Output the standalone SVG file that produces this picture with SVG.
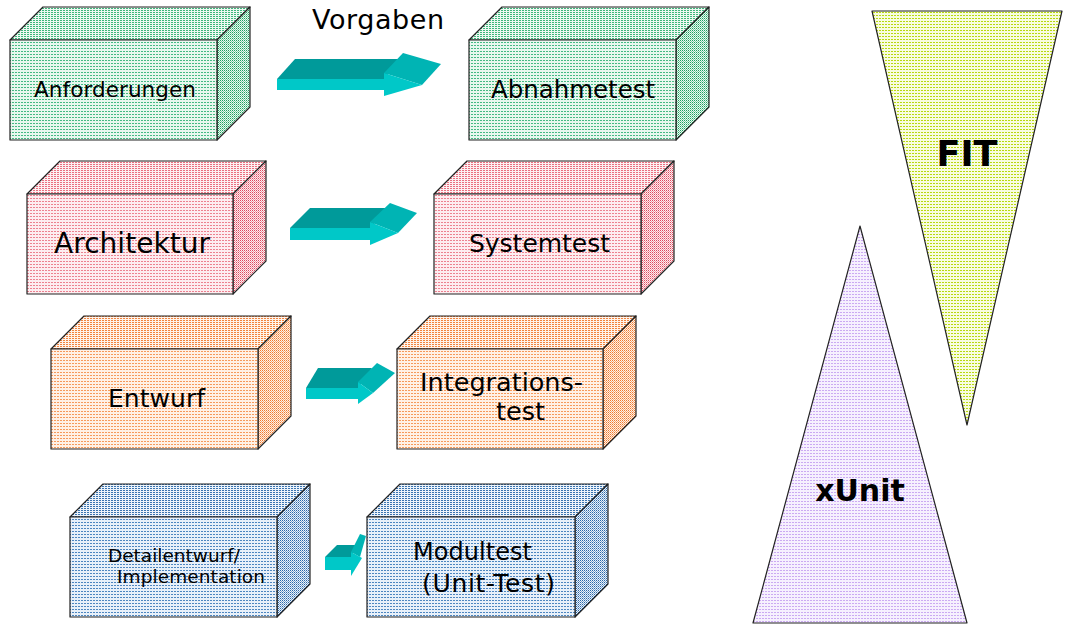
<svg xmlns="http://www.w3.org/2000/svg" width="1068" height="633" viewBox="0 0 1068 633">
<style>
.lbl{font-family:"DejaVu Sans","Verdana",sans-serif;fill:#000}
.bold{font-family:"DejaVu Sans","Verdana",sans-serif;font-weight:bold;fill:#000}
.edge{stroke:#222;stroke-width:1.2;stroke-linejoin:round}
.a1{fill:#00c8c8}.a2{fill:#009a9a}.a3{fill:#00b4b4}
</style>
<defs>
<pattern id="gF" width="3" height="3" patternUnits="userSpaceOnUse"><rect width="3" height="3" fill="#e8f7ee"/><rect width="2" height="1" fill="#45b983"/></pattern>
<pattern id="gT" width="3" height="2" patternUnits="userSpaceOnUse"><rect width="3" height="2" fill="#edf9f2"/><rect width="2" height="1" fill="#3fb67c"/></pattern>
<pattern id="gS" width="2" height="2" patternUnits="userSpaceOnUse"><rect width="2" height="2" fill="#eaf8f0"/><rect width="1" height="1" fill="#1f9e60"/><rect x="1" y="1" width="1" height="1" fill="#7ccfa4"/></pattern>
<pattern id="rF" width="3" height="3" patternUnits="userSpaceOnUse"><rect width="3" height="3" fill="#fdedf0"/><rect width="2" height="1" fill="#ec8290"/></pattern>
<pattern id="rT" width="3" height="2" patternUnits="userSpaceOnUse"><rect width="3" height="2" fill="#fdf0f2"/><rect width="2" height="1" fill="#ea7080"/></pattern>
<pattern id="rS" width="2" height="2" patternUnits="userSpaceOnUse"><rect width="2" height="2" fill="#fdeef0"/><rect width="1" height="1" fill="#dc4a5e"/><rect x="1" y="1" width="1" height="1" fill="#f09aa6"/></pattern>
<pattern id="oF" width="3" height="3" patternUnits="userSpaceOnUse"><rect width="3" height="3" fill="#fff1e6"/><rect width="2" height="1" fill="#f59a5c"/></pattern>
<pattern id="oT" width="3" height="2" patternUnits="userSpaceOnUse"><rect width="3" height="2" fill="#fff3ea"/><rect width="2" height="1" fill="#f2843e"/></pattern>
<pattern id="oS" width="2" height="2" patternUnits="userSpaceOnUse"><rect width="2" height="2" fill="#fff1e6"/><rect width="1" height="1" fill="#ee7a30"/><rect x="1" y="1" width="1" height="1" fill="#f6aa78"/></pattern>
<pattern id="bF" width="3" height="3" patternUnits="userSpaceOnUse"><rect width="3" height="3" fill="#e8f0f9"/><rect width="2" height="1" fill="#4d86c0"/></pattern>
<pattern id="bT" width="3" height="2" patternUnits="userSpaceOnUse"><rect width="3" height="2" fill="#edf3fa"/><rect width="2" height="1" fill="#3a74b0"/></pattern>
<pattern id="bS" width="2" height="2" patternUnits="userSpaceOnUse"><rect width="2" height="2" fill="#ecf2f9"/><rect width="1" height="1" fill="#2c68a8"/><rect x="1" y="1" width="1" height="1" fill="#7ea6d0"/></pattern>
<pattern id="yF" width="3" height="3" patternUnits="userSpaceOnUse"><rect width="3" height="3" fill="#f8fce0"/><rect width="2" height="1" fill="#b8d810"/></pattern>
<pattern id="vF" width="3" height="3" patternUnits="userSpaceOnUse"><rect width="3" height="3" fill="#f6f0fe"/><rect width="2" height="1" fill="#cbaaf2"/></pattern>
</defs>
<rect width="1068" height="633" fill="#fff"/>

<g id="anforderungen">
<path class="edge" fill="url(#gT)" d="M10,40 L43,7 L250,7 L217,40 Z"/>
<path class="edge" fill="url(#gS)" d="M217,40 L250,7 L250,107 L217,140 Z"/>
<rect class="edge" fill="url(#gF)" x="10" y="40" width="207" height="100"/>
<text class="lbl" x="34" y="97" font-size="21.5" textLength="162">Anforderungen</text>
</g>
<g id="abnahmetest">
<path class="edge" fill="url(#gT)" d="M469,40 L502,7 L709,7 L676,40 Z"/>
<path class="edge" fill="url(#gS)" d="M676,40 L709,7 L709,107 L676,140 Z"/>
<rect class="edge" fill="url(#gF)" x="469" y="40" width="207" height="100"/>
<text class="lbl" x="491" y="98" font-size="24.5" textLength="164">Abnahmetest</text>
</g>
<g id="architektur">
<path class="edge" fill="url(#rT)" d="M27,194 L60,161 L266,161 L233,194 Z"/>
<path class="edge" fill="url(#rS)" d="M233,194 L266,161 L266,261 L233,294 Z"/>
<rect class="edge" fill="url(#rF)" x="27" y="194" width="206" height="100"/>
<text class="lbl" x="54" y="253" font-size="28" textLength="156">Architektur</text>
</g>
<g id="systemtest">
<path class="edge" fill="url(#rT)" d="M434,194 L467,161 L674,161 L641,194 Z"/>
<path class="edge" fill="url(#rS)" d="M641,194 L674,161 L674,261 L641,294 Z"/>
<rect class="edge" fill="url(#rF)" x="434" y="194" width="207" height="100"/>
<text class="lbl" x="469" y="252" font-size="25" textLength="141">Systemtest</text>
</g>
<g id="entwurf">
<path class="edge" fill="url(#oT)" d="M51,349 L84,316 L291,316 L258,349 Z"/>
<path class="edge" fill="url(#oS)" d="M258,349 L291,316 L291,416 L258,449 Z"/>
<rect class="edge" fill="url(#oF)" x="51" y="349" width="207" height="100"/>
<text class="lbl" x="108" y="407" font-size="25" textLength="97">Entwurf</text>
</g>
<g id="integrationstest">
<path class="edge" fill="url(#oT)" d="M397,349 L430,316 L636,316 L603,349 Z"/>
<path class="edge" fill="url(#oS)" d="M603,349 L636,316 L636,416 L603,449 Z"/>
<rect class="edge" fill="url(#oF)" x="397" y="349" width="206" height="100"/>
<text class="lbl" x="420" y="391" font-size="25.5" textLength="163">Integrations-</text>
<text class="lbl" x="496" y="420" font-size="25.5">test</text>
</g>
<g id="detailentwurf">
<path class="edge" fill="url(#bT)" d="M70,517 L103,484 L310,484 L277,517 Z"/>
<path class="edge" fill="url(#bS)" d="M277,517 L310,484 L310,584 L277,617 Z"/>
<rect class="edge" fill="url(#bF)" x="70" y="517" width="207" height="100"/>
<text class="lbl" x="108" y="562" font-size="18.5" textLength="132">Detailentwurf/</text>
<text class="lbl" x="117" y="583" font-size="18.5" textLength="148">Implementation</text>
</g>
<g id="modultest">
<path class="edge" fill="url(#bT)" d="M367,517 L400,484 L608,484 L575,517 Z"/>
<path class="edge" fill="url(#bS)" d="M575,517 L608,484 L608,584 L575,617 Z"/>
<rect class="edge" fill="url(#bF)" x="367" y="517" width="208" height="100"/>
<text class="lbl" x="413" y="560" font-size="24" textLength="119">Modultest</text>
<text class="lbl" x="422" y="592" font-size="25" textLength="133">(Unit-Test)</text>
</g>

<g id="vorgaben-label">
<text class="lbl" x="312" y="29" font-size="27" textLength="132">Vorgaben</text>
</g>

<g id="connectors">
<g id="arrow1">
<polygon class="a2" points="277,79 295,59 403,59 384,79"/>
<rect class="a1" x="277" y="79" width="107" height="11"/>
<polygon class="a3" points="384,73 403,53 441,64 422,85"/>
<polygon class="a1" points="384,73 384,96 422,85"/>
</g>
<g id="arrow2">
<polygon class="a2" points="290,228 310,208 390,208 370,228"/>
<rect class="a1" x="290" y="228" width="80" height="12"/>
<polygon class="a3" points="370,222 390,203 417,213 398,233"/>
<polygon class="a1" points="370,222 370,245 398,233"/>
</g>
<g id="arrow3">
<polygon class="a2" points="306,388 318,368 372,368 358,388"/>
<rect class="a1" x="306" y="388" width="52" height="11"/>
<polygon class="a3" points="358,382 377,363 395,373 373,393"/>
<polygon class="a1" points="358,382 358,404 373,393"/>
</g>
<g id="arrow4">
<polygon class="a2" points="325,557 337,545 358,545 351,557"/>
<rect class="a1" x="325" y="557" width="26" height="13"/>
<polygon class="a3" points="351,552 360,534 366,536 360,557"/>
<polygon class="a1" points="351,552 351,576 362,558"/>
</g>
</g>

<g id="fit">
<polygon class="edge" fill="url(#yF)" points="872,11 1062,11 967,425"/>
<text class="bold" x="967" y="166" font-size="35" text-anchor="middle">FIT</text>
</g>
<g id="xunit">
<polygon class="edge" fill="url(#vF)" points="860,226 967,623 753,623"/>
<text class="bold" x="860" y="501" font-size="30" text-anchor="middle">xUnit</text>
</g>
</svg>
